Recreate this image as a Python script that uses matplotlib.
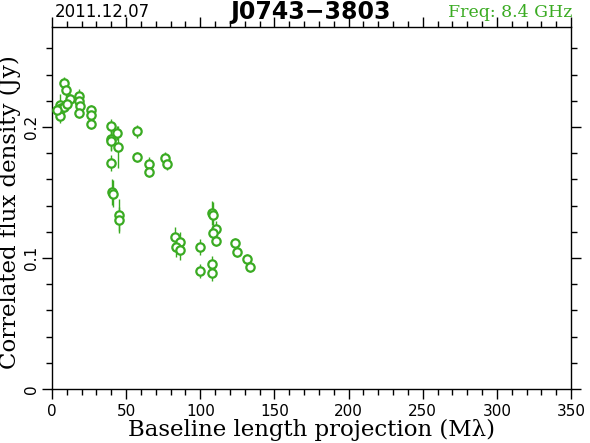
import matplotlib.pyplot as plt
from matplotlib.ticker import MultipleLocator

# baseline length projection (Mlambda), correlated flux (Jy), error (Jy)
baseline = [8.1, 9.4, 11.9, 5.6, 6.1, 8.1, 10.1, 5.4, 3.4,
            18.2, 18.2, 18.9, 18.2, 26.3, 26.3, 26.3,
            39.8, 43.8, 40.1, 39.5, 44.2, 40.1,
            57.3, 57.3, 65.1, 65.1, 76.2, 77.9,
            40.5, 41.1, 45.2, 45.5,
            107.6, 108.9, 110.6, 108.9, 110.3,
            82.9, 86.3, 83.6, 86.0,
            100.1, 99.8, 107.9, 107.9,
            123.4, 125.1, 131.8, 133.5]
flux = [0.2334, 0.2282, 0.2214, 0.2168, 0.2145, 0.2153, 0.2176, 0.2084, 0.2130,
        0.2237, 0.2198, 0.2160, 0.2107, 0.2130, 0.2092, 0.2023,
        0.2008, 0.1954, 0.1908, 0.1893, 0.1847, 0.1725,
        0.1966, 0.1771, 0.1718, 0.1656, 0.1767, 0.1718,
        0.1504, 0.1492, 0.1328, 0.1290,
        0.1344, 0.1328, 0.1221, 0.1191, 0.1130,
        0.1160, 0.1122, 0.1084, 0.1061,
        0.1084, 0.0901, 0.0954, 0.0885,
        0.1115, 0.1046, 0.0992, 0.0931]
err = [0.005, 0.005, 0.004, 0.008, 0.005, 0.005, 0.004, 0.005, 0.004,
       0.005, 0.004, 0.004, 0.004, 0.004, 0.004, 0.004,
       0.005, 0.005, 0.008, 0.008, 0.016, 0.006,
       0.005, 0.004, 0.005, 0.004, 0.004, 0.005,
       0.010, 0.010, 0.012, 0.010,
       0.009, 0.010, 0.006, 0.005, 0.004,
       0.008, 0.008, 0.008, 0.008,
       0.006, 0.005, 0.006, 0.006,
       0.004, 0.004, 0.004, 0.004]

green = '#3aab22'

fig = plt.figure(figsize=(5.9, 4.43), dpi=100)
ax = fig.add_axes([0.0881, 0.1219, 0.8797, 0.8171])

ax.errorbar(baseline, flux, yerr=err, fmt='o', ms=6, mfc='white', mec=green,
            mew=1.6, ecolor=green, elinewidth=1.0, capsize=0, zorder=3)

ax.set_xlim(0, 350)
ax.set_ylim(0, 0.2763)
ax.xaxis.set_major_locator(MultipleLocator(50))
ax.xaxis.set_minor_locator(MultipleLocator(10))
ax.yaxis.set_major_locator(MultipleLocator(0.1))
ax.yaxis.set_minor_locator(MultipleLocator(0.02))
ax.yaxis.set_major_formatter(plt.FuncFormatter(lambda v, p: '0' if v == 0 else f'{v:g}'))

ax.tick_params(which='both', direction='out', top=True, right=True,
               labeltop=False, labelright=False, color='black', width=1)
ax.tick_params(which='major', length=7, labelsize=11)
ax.tick_params(axis='y', which='major', pad=2)
ax.tick_params(which='minor', length=4)
for lab in ax.get_yticklabels():
    lab.set_rotation(90)
    lab.set_va('center')
for s in ax.spines.values():
    s.set_linewidth(1)

serif = 'DejaVu Serif'
ax.set_xlabel('Baseline length projection (M\u03bb)', fontsize=16.5, family=serif, labelpad=0)
ax.set_ylabel('Correlated flux density (Jy)', fontsize=16.5, family=serif, va='center')
ax.yaxis.set_label_coords(-0.081, 0.49)

fig.text(0.093, 0.972, '2011.12.07', fontsize=12, va='center', ha='left')
fig.text(0.527, 0.972, 'J0743\u22123803', fontsize=17, fontweight='bold', va='center', ha='center')
fig.text(0.970, 0.972, 'Freq: 8.4 GHz', fontsize=12.5, family=serif, color=green, va='center', ha='right')

fig.savefig('out.png', dpi=100)
